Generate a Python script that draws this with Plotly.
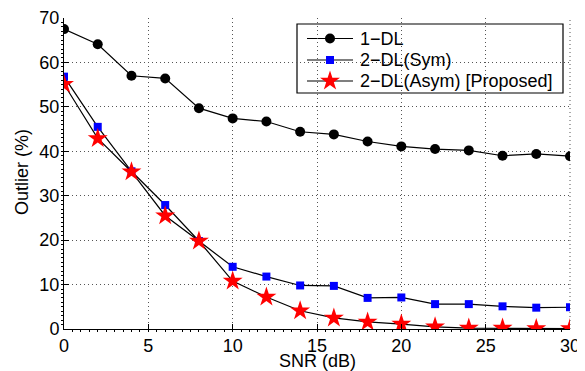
import plotly.graph_objects as go

snr = [0, 2, 4, 6, 8, 10, 12, 14, 16, 18, 20, 22, 24, 26, 28, 30]
dl1 = [67.5, 64.1, 57.0, 56.4, 49.7, 47.4, 46.7, 44.4, 43.8, 42.2, 41.1, 40.5, 40.2, 39.0, 39.4, 38.9]
dl2_sym = [56.8, 45.5, 35.5, 27.9, 19.8, 14.0, 11.8, 9.8, 9.7, 7.0, 7.1, 5.6, 5.6, 5.1, 4.8, 4.9]
dl2_asym = [55.1, 42.9, 35.4, 25.5, 19.8, 10.8, 7.2, 4.1, 2.5, 1.6, 1.1, 0.5, 0.2, 0.2, 0.1, 0.1]

names = ["1\u2212DL", "2\u2212DL(Sym)", "2\u2212DL(Asym) [Proposed]"]
x_ticks = [0, 5, 10, 15, 20, 25, 30]
y_ticks = [0, 10, 20, 30, 40, 50, 60, 70]
x_title = "SNR (dB)"
y_title = "Outlier (%)"

FONT = "Liberation Sans, Arial, Helvetica"
FS = 18

styles = [
    dict(symbol="circle", size=10, color="black"),
    dict(symbol="square", size=8, color="#0000ff"),
    dict(symbol="star", size=15, color="#ff0000", line=dict(width=0)),
]

fig = go.Figure()
for name, ys, mk in zip(names, [dl1, dl2_sym, dl2_asym], styles):
    fig.add_trace(go.Scatter(x=snr, y=ys, name=name, mode="lines+markers",
                             line=dict(color="black", width=1.2),
                             marker=mk, showlegend=False))

axis_common = dict(showline=True, linecolor="black", linewidth=1, ticks="inside",
                   ticklen=5, tickcolor="black", showgrid=True, gridcolor="#555555",
                   griddash="1px,3px", gridwidth=1, zeroline=False, automargin=False,
                   tickfont=dict(size=FS, color="black", family=FONT), mirror=False)

fig.update_xaxes(range=[0, 30], tickvals=x_ticks,
                 minor=dict(ticks="outside", ticklen=2, dtick=0.5, tickcolor="black", showgrid=False),
                 **axis_common)
fig.update_yaxes(range=[0, 70], tickvals=y_ticks,
                 minor=dict(ticks="outside", ticklen=2, dtick=1, tickcolor="black", showgrid=False),
                 **axis_common)

# The page body adds an 8px offset; plot area in figure pixels:
W, H = 577, 363
L, R, T, B = 56, 562, 10, 321
OFF = 8
def px(xw): return (xw - OFF - L) / (R - L)
def py(yw): return (B - (yw - OFF)) / (B - T)

shapes = [dict(type="rect", xref="paper", yref="paper", x0=px(297), x1=px(563),
               y0=py(93), y1=py(24), line=dict(color="black", width=1.2),
               fillcolor="white", layer="between")]
shapes.append(dict(type="line", xref="paper", yref="paper", x0=1, x1=1, y0=0, y1=1,
                   line=dict(color="#555555", width=1, dash="1px,3px"), layer="between"))
annotations = [
    dict(xref="paper", yref="paper", x=px(317), y=py(361), text=x_title, showarrow=False,
         xanchor="center", yanchor="middle", font=dict(size=FS, color="black", family=FONT)),
    dict(xref="paper", yref="paper", x=px(22), y=py(172), text=y_title, showarrow=False,
         textangle=-90, xanchor="center", yanchor="middle",
         font=dict(size=FS, color="black", family=FONT)),
]
rows = [38.5, 60, 81]
for name, mk, ry in zip(names, styles, rows):
    shapes.append(dict(type="line", xref="paper", yref="paper", x0=px(307), x1=px(353),
                       y0=py(ry), y1=py(ry), line=dict(color="black", width=1.2), layer="between"))
    fig.add_trace(go.Scatter(x=[px(330)], y=[py(ry)], mode="markers", marker=mk,
                             xaxis="x2", yaxis="y2", showlegend=False, hoverinfo="skip",
                             cliponaxis=False))
    annotations.append(dict(xref="paper", yref="paper", x=px(358), y=py(ry), text=name,
                            showarrow=False, xanchor="left", yanchor="middle",
                            font=dict(size=FS, color="black", family=FONT)))

fig.update_layout(
    width=W, height=H,
    margin=dict(l=L, r=W - R, t=T, b=H - B),
    plot_bgcolor="white", paper_bgcolor="white",
    font=dict(family=FONT, color="black", size=FS),
    showlegend=False,
    shapes=shapes, annotations=annotations,
    xaxis2=dict(overlaying="x", range=[0, 1], visible=False),
    yaxis2=dict(overlaying="y", range=[0, 1], visible=False),
)

fig.write_html("out.html")
